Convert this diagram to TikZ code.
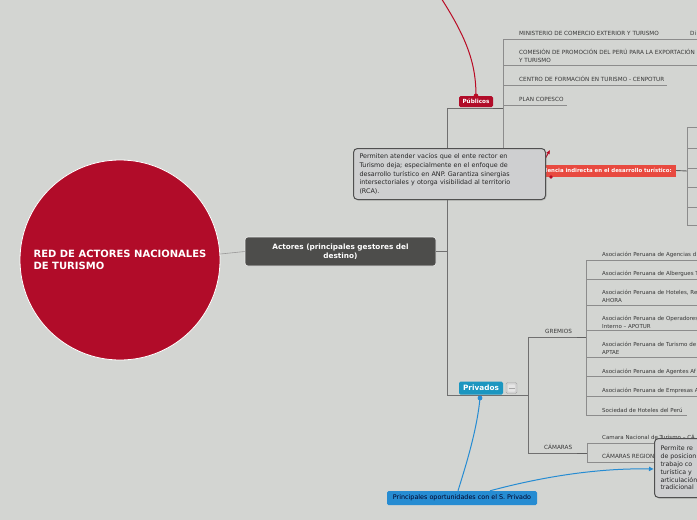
\documentclass[tikz,border=0pt]{standalone}
\usepackage{fontspec}
\setmainfont{DejaVu Sans}
\usetikzlibrary{arrows.meta,shadows}
\definecolor{bg}{RGB}{211,213,210}
\definecolor{crimson}{RGB}{177,12,41}
\definecolor{darkbox}{RGB}{77,77,75}
\definecolor{redlabel}{RGB}{232,74,64}
\definecolor{teal}{RGB}{27,150,192}
\definecolor{bluenode}{RGB}{38,140,210}
\definecolor{calloutfill}{RGB}{206,207,208}
\definecolor{calloutdraw}{RGB}{80,80,80}
\definecolor{ulgray}{RGB}{140,140,140}
\definecolor{conn}{RGB}{95,95,95}
\definecolor{itemtext}{RGB}{55,55,55}
\tikzset{
  ul/.style={draw=ulgray, line width=0.6pt},
  connline/.style={draw=conn, line width=0.9pt},
  trunk/.style={draw=ulgray!80!black, line width=0.6pt},
  item/.style={anchor=base west, inner sep=0pt, text=itemtext, align=left,
    font=\fontsize{5.5}{8}\selectfont},
  capitem/.style={anchor=base west, inner sep=0pt, text=itemtext, align=left,
    font=\fontsize{5.7}{7.5}\selectfont},
  callout/.style={draw=calloutdraw, fill=calloutfill, line width=1pt,
    rounded corners=4pt, drop shadow={shadow xshift=1pt, shadow yshift=-1pt, opacity=0.3}},
  tag/.style={inner sep=0pt, rounded corners=1.5pt, text=white, font=\bfseries\fontsize{5.7}{7}\selectfont}
}
\begin{document}
\begin{tikzpicture}[x=1pt,y=-1pt]
\useasboundingbox (0,0) rectangle (697,520);
\fill[bg] (0,0) rectangle (697,520);
\clip (0,0) rectangle (697,520);

% root
\node[circle, fill=crimson, draw=white, line width=0.8pt, minimum size=200pt, inner sep=0pt,
  text=white, align=left, font=\bfseries\fontsize{10}{12}\selectfont] (root) at (120,260)
  {RED DE ACTORES NACIONALES\\DE TURISMO};

% actores
\node[draw=white!85!gray, fill=darkbox, line width=0.6pt, rounded corners=3pt,
  minimum width=191pt, minimum height=29pt, inner sep=0pt, text=white, align=center,
  font=\bfseries\fontsize{7.3}{9}\selectfont] (act) at (340.5,251.5)
  {Actores (principales gestores del\\destino)};
\draw[draw=gray!80, line width=0.6pt] (root.east) ++(0,-6) coordinate (rootout) -- (act.west);

% trunk
\coordinate (tj) at (447,251.5);
\coordinate (ttop) at (447,108);
\coordinate (tbot) at (447,395);
\draw[trunk] (act.east) -- (tj);
\draw[trunk] (ttop) -- (tbot);

% Publicos
\node[tag, fill=crimson, minimum width=34pt, minimum height=11pt] (pub) at (476,101.5) {Públicos};
\coordinate (pubr) at (493,108);
\coordinate (pubv) at (503,108);
\draw[trunk] (ttop) -- (pubr);
\draw[connline] (pubr) -- (pubv);
\coordinate (pv1) at (503,39);
\coordinate (pv2) at (503,170);
\draw[ul] (pv1) -- (pv2);

\node[capitem] (p1) at (519,35) {MINISTERIO DE COMERCIO EXTERIOR Y TURISMO};
\node[capitem] (p1b) at (690,35) {Di};
\node[capitem] (p2) at (519,62) {COMESIÓN DE PROMOCIÓN DEL PERÚ PARA LA EXPORTACIÓN\\Y TURISMO};
\node[capitem] (p3) at (519,81) {CENTRO DE FORMACIÓN EN TURISMO - CENPOTUR};
\node[capitem] (p4) at (519,101) {PLAN COPESCO};
\draw[ul] (pv1) -- (700,39);
\draw[ul] (503,65) -- (700,65);
\draw[ul] (503,85) -- (667,85);
\draw[ul] (503,105) -- (567,105);

% top red connector into Publicos
\coordinate (topin) at (441,-2);
\draw[crimson!90!red, line width=1pt] (topin) .. controls (468,40) and (476,65) .. (pub.north);
\fill[crimson!90!red] (pub.north) circle (2.3pt);

% red label
\node[anchor=east, fill=redlabel, text=white, inner xsep=4pt, inner ysep=0pt, minimum height=12pt,
  font=\bfseries\fontsize{5.4}{6}\selectfont] (rl) at (676,170.5)
  {dencia indirecta en el desarrollo turístico:};
\draw[ul] (pv2) -- (rl.west);
\coordinate (rlv) at (687,171);
\draw[connline] (rl.east) -- (rlv);
\draw[ul] (687,127) -- (687,225);
\foreach \yy in {127,148,168,187,207,225} \draw[ul] (687,\yy) -- (700,\yy);
\fill[crimson!90!red] (551,177) circle (1.8pt);
\draw[crimson!90!red, line width=1pt, -{Latex[length=4pt,width=4pt]}] (545,159) -- (550,150);

% callout
\node[callout, anchor=north west, minimum width=192pt, minimum height=51pt, text width=180pt,
  inner xsep=6pt, align=left, text=black!85,
  font=\fontsize{6.4}{8.6}\selectfont] (cb) at (353,148)
  {Permiten atender vacíos que el ente rector en\\Turismo deja; especialmente en el enfoque de\\desarrollo turístico en ANP. Garantiza sinergias\\intersectoriales y otorga visibilidad al territorio\\(RCA).};

% Privados
\node[tag, fill=teal, minimum width=44pt, minimum height=13pt,
  font=\bfseries\fontsize{7.3}{8}\selectfont] (priv) at (481,388) {Privados};
\node[draw=gray!70, fill=gray!35, rounded corners=1.5pt, minimum size=11pt, inner sep=0pt] (icon) at (511.5,388) {};
\draw[draw=white!80!gray, fill=gray!20, rounded corners=1pt] (508,384.5) rectangle (515,391.5);
\draw[gray!70, line width=0.5pt] (508.5,388) -- (514.5,388);
\coordinate (privv) at (528,395);
\draw[trunk] (tbot) -- (privv);
\draw[trunk] (528,337) -- (528,453);

% GREMIOS
\node[capitem] (grem) at (545,333) {GREMIOS};
\coordinate (gr) at (577,337);
\coordinate (gv) at (586,337);
\draw[trunk] (528,337) -- (gr);
\draw[connline] (gr) -- (gv);
\draw[ul] (586,260) -- (586,416);
\node[item] (g1) at (602,256) {Asociación Peruana de Agencias d};
\node[item] (g2) at (602,275.5) {Asociación Peruana de Albergues T};
\node[item] (g3) at (602,302) {Asociación Peruana de Hoteles, Re\\AHORA};
\node[item] (g4) at (602,328) {Asociación Peruana de Operadores\\Interno – APOTUR};
\node[item] (g5) at (602,354) {Asociación Peruana de Turismo de\\APTAE};
\node[item] (g6) at (602,373) {Asociación Peruana de Agentes Af};
\node[item] (g7) at (602,392.5) {Asociación Peruana de Empresas A};
\node[item] (g8) at (602,412) {Sociedad de Hoteles del Perú};
\foreach \yy in {260,279.3,305.7,330.7,357.3,376.7,396} \draw[ul] (586,\yy) -- (700,\yy);
\draw[ul] (586,415.7) -- (687,415.7);

% CAMARAS
\node[capitem] (cam) at (544,449) {CÁMARAS};
\coordinate (cr) at (577,453);
\coordinate (cv) at (587,453);
\draw[trunk] (528,453) -- (cr);
\draw[connline] (cr) -- (cv);
\draw[ul] (587,443) -- (587,462);
\node[item] (c1) at (602,439) {Camara Nacional de Turismo – CÁ};
\node[capitem] (c2) at (602,458.5) {CÁMARAS REGIONA};
\draw[ul] (587,443) -- (700,443);
\draw[ul] (587,462) -- (660,462);

% bottom-right callout
\node[callout, anchor=north west, minimum width=70pt, minimum height=59pt, text width=60pt,
  inner xsep=6pt, align=left, text=black!85,
  font=\fontsize{6.3}{7.8}\selectfont] (cb2) at (654,438)
  {Permite re\\de posicion\\trabajo co\\turística y\\articulación\\tradicional};

% blue node and connectors
\node[fill=bluenode, rounded corners=1.5pt, minimum width=150pt, minimum height=14pt, inner sep=0pt,
  text=black!75!blue!60!black, font=\fontsize{6.4}{7}\selectfont] (opp) at (462,498)
  {Principales oportunidades con el S. Privado};
\coordinate (privdot) at (480,398);
\fill[bluenode] (privdot) circle (2.4pt);
\draw[bluenode, line width=1pt] (privdot) .. controls (477,430) and (466,465) .. ([xshift=-4pt]opp.north);
\draw[bluenode, line width=1pt, -{Latex[length=5pt,width=5pt]}] ([xshift=28pt]opp.north) .. controls (545,476) and (600,468) .. (cb2.west |- 0,469);
\end{tikzpicture}
\end{document}
